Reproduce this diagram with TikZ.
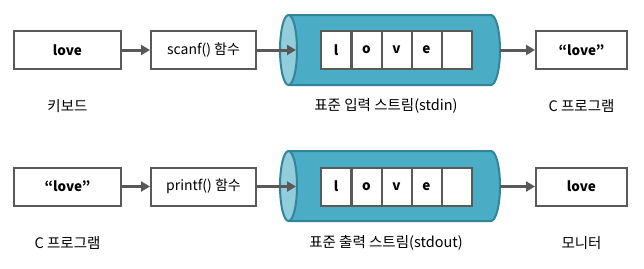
\documentclass[tikz,border=0pt]{standalone}
\usepackage{fontspec}
\setmainfont{Noto Sans CJK KR}
\usetikzlibrary{arrows.meta}
\definecolor{edgegray}{HTML}{595959}
\definecolor{cylbody}{HTML}{4BACC6}
\definecolor{cylline}{HTML}{31849B}
\definecolor{cylface}{HTML}{92CDDC}
\tikzset{
  box/.style={draw=edgegray, line width=2pt, fill=white, minimum height=38pt, inner sep=0pt,
    font=\fontsize{14}{16}\selectfont},
  boldbox/.style={box, font=\fontsize{13.5}{16}\selectfont\bfseries},
  cell/.style={draw=edgegray, line width=2pt, fill=white, minimum width=30pt, minimum height=38pt,
    inner sep=0pt, font=\fontsize{13.5}{16}\selectfont\bfseries},
  lbl/.style={font=\fontsize{14.5}{16}\selectfont, inner sep=0pt},
  conn/.style={draw=edgegray, line width=3pt, -{Triangle[length=9pt,width=10pt]}},
}
\newcommand{\mystream}[1]{%
  % body
  \fill[cylbody, draw=cylline, line width=2pt]
    (289,#1-35) -- (491,#1-35) arc[start angle=-90, end angle=90, x radius=9, y radius=35]
    -- (289,#1+35) -- cycle;
  % left face
  \fill[cylface, draw=cylline, line width=2pt] (288.5,#1) ellipse[x radius=8.5, y radius=35];
}
\begin{document}
\begin{tikzpicture}[x=1pt,y=-1pt]
\useasboundingbox (0,0) rectangle (644,268);
% ---------- top row ----------
\mystream{50}
\node[boldbox, minimum width=107pt] (kb) at (67.5,50) {love};
\node[box, minimum width=105pt] (scanf) at (203.5,50) {scanf() 함수};
\node[boldbox, minimum width=91pt] (cprog) at (581.5,50) {“love”};
\node[cell] (a1) at (336,50) {l};
\node[cell] (a2) at (366.5,50) {o};
\node[cell] (a3) at (396.5,50) {v};
\node[cell] (a4) at (426.5,50) {e};
\node[cell] (a5) at (456.5,50) {};
\coordinate (inL) at (296,50);
\coordinate (inR) at (500,50);
\draw[conn] (kb.east) -- (scanf.west);
\draw[conn] (scanf.east) -- (inL);
\draw[conn] (inR) -- (cprog.west);
\node[lbl] (l1) at (67.5,106) {키보드};
\node[lbl] (l2) at (386,106) {표준 입력 스트림(stdin)};
\node[lbl] (l3) at (581.5,106) {C 프로그램};
% ---------- bottom row ----------
\mystream{186}
\node[boldbox, minimum width=107pt] (cp2) at (67.5,186.5) {“love”};
\node[box, minimum width=105pt] (printf) at (203.5,186.5) {printf() 함수};
\node[boldbox, minimum width=91pt] (mon) at (581.5,186.5) {love};
\node[cell] (b1) at (336,186.5) {l};
\node[cell] (b2) at (366.5,186.5) {o};
\node[cell] (b3) at (396.5,186.5) {v};
\node[cell] (b4) at (426.5,186.5) {e};
\node[cell] (b5) at (456.5,186.5) {};
\coordinate (outL) at (296,186.5);
\coordinate (outR) at (500,186.5);
\draw[conn] (cp2.east) -- (printf.west);
\draw[conn] (printf.east) -- (outL);
\draw[conn] (outR) -- (mon.west);
\node[lbl] (m1) at (67.5,243) {C 프로그램};
\node[lbl] (m2) at (386,243) {표준 출력 스트림(stdout)};
\node[lbl] (m3) at (581.5,243) {모니터};
\end{tikzpicture}
\end{document}
